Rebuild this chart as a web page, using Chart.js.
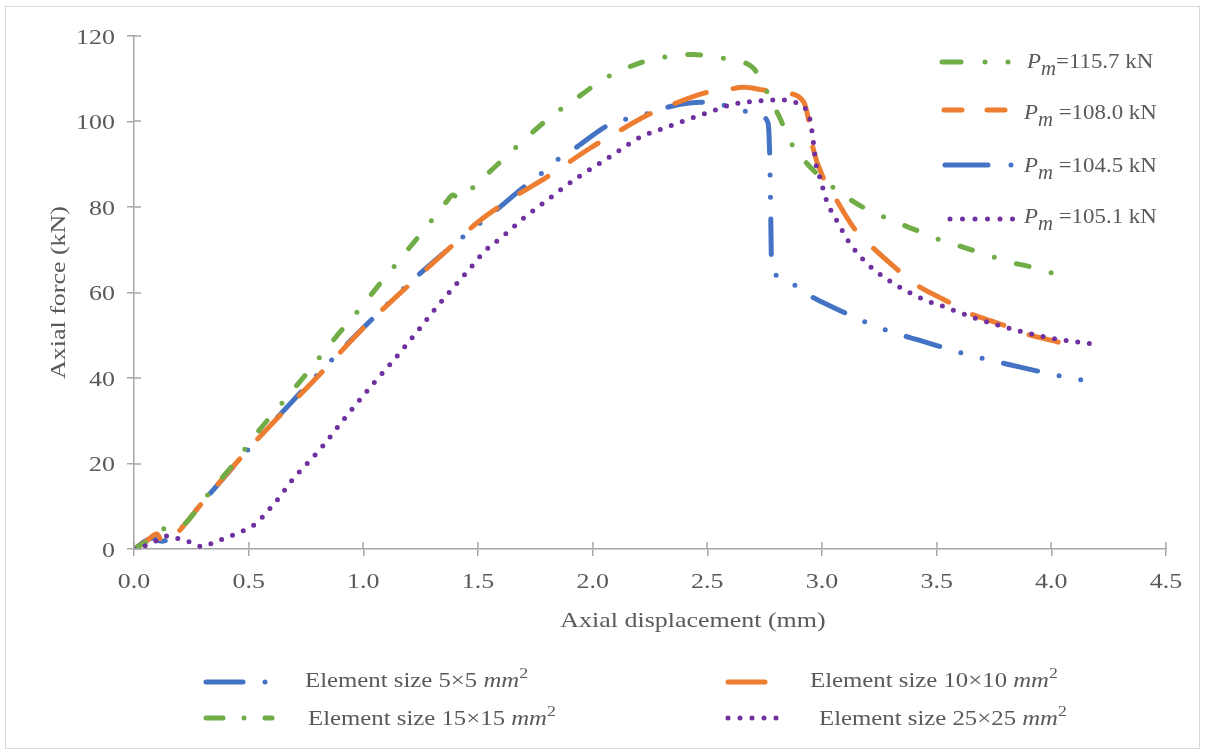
<!DOCTYPE html>
<html>
<head>
<meta charset="utf-8">
<script src="https://cdn.jsdelivr.net/npm/chart.js@4.4.1/dist/chart.umd.min.js"></script>
<style>
  html, body { margin: 0; padding: 0; background: #fff; }
  #wrap { position: relative; width: 1205px; height: 754px; }
</style>
</head>
<body>
<div id="wrap"><canvas id="chart" width="1205" height="754"></canvas></div>
<script>
// Axial force vs. axial displacement for four mesh sizes (FE results)
const disp5 = [0, 0.08, 0.12, 0.17, 0.30, 0.52, 0.84, 1.02, 1.23, 1.43, 1.58, 1.705, 1.78, 1.85, 1.93, 2.07, 2.15, 2.25, 2.33, 2.42, 2.50, 2.60, 2.69, 2.74, 2.765, 2.772, 2.776, 2.78, 2.84, 2.92, 3.0, 3.16, 3.24, 3.33, 3.42, 3.64, 3.86, 4.02, 4.11, 4.21]
const force5 = [0, 2.5, 1.8, 3.0, 11, 24.6, 43, 52.8, 63.6, 72.8, 79.3, 84.9, 88, 91.2, 94, 99.2, 100.6, 102, 103.4, 104.3, 104.5, 103.4, 102, 101, 99.6, 92, 80, 66.4, 63, 60, 57.8, 53.8, 52, 50.3, 48.9, 45.4, 42.6, 40.7, 39.8, 38.7]

const disp10 = [0, 0.05, 0.10, 0.127, 0.18, 0.30, 0.52, 0.82, 1.0, 1.19, 1.38, 1.5, 1.65, 1.80, 1.99, 2.10, 2.25, 2.33, 2.49, 2.58, 2.66, 2.74, 2.84, 2.92, 2.94, 2.96, 3.01, 3.05, 3.14, 3.2, 3.33, 3.40, 3.55, 3.63, 3.79, 3.86, 4.03]
const force10 = [0, 1.7, 3.5, 1.4, 3.3, 11, 24.6, 41.4, 51.7, 61.3, 70.6, 76.5, 82.1, 87, 93.8, 97.3, 101.8, 103.6, 106.7, 107.4, 108.0, 107.4, 106.7, 104.6, 100.8, 94, 86.3, 82.8, 75, 71.6, 65.3, 62.2, 57.8, 55.4, 52.4, 50.8, 48.4]

const disp15 = [0, 0.07, 0.14, 0.20, 0.266, 0.32, 0.43, 0.54, 0.65, 0.755, 0.87, 0.98, 1.085, 1.20, 1.31, 1.365, 1.39, 1.42, 1.49, 1.61, 1.68, 1.81, 1.88, 1.96, 2.02, 2.10, 2.18, 2.26, 2.35, 2.44, 2.52, 2.61, 2.70, 2.74, 2.78, 2.82, 2.85, 2.90, 2.96, 3.02, 3.09, 3.17, 3.24, 3.32, 3.41, 3.48, 3.65, 3.72, 3.82, 3.91, 4.0]
const force15 = [0, 2.2, 4.9, 5.2, 8.6, 12.6, 19.6, 27.4, 34.4, 41.2, 48.9, 55.9, 62.9, 70.4, 77.7, 81.4, 82.8, 81.9, 85.2, 91.2, 94.7, 100.8, 103.6, 106.6, 109, 111.4, 113.2, 114.6, 115.3, 115.7, 115.1, 114.4, 112.5, 109.2, 104.6, 100.4, 96.4, 92.4, 88.7, 85.8, 83, 80.2, 78.4, 76.5, 74.6, 73, 70, 68.8, 67.1, 66, 64.6]

const disp25 = [0, 0.055, 0.10, 0.15, 0.20, 0.25, 0.30, 0.35, 0.40, 0.45, 0.50, 0.54, 0.575, 0.61, 0.645, 0.676, 0.816, 0.916, 1.05, 1.12, 1.19, 1.255, 1.32, 1.39, 1.46, 1.53, 1.61, 1.69, 1.775, 1.86, 1.945, 2.08, 2.21, 2.31, 2.41, 2.51, 2.61, 2.72, 2.82, 2.87, 2.92, 2.945, 2.955, 2.962, 2.968, 2.975, 2.99, 3.02, 3.07, 3.12, 3.19, 3.27, 3.36, 3.46, 3.51, 3.68, 3.86, 4.02, 4.12, 4.18]
const force25 = [0, 0.9, 2, 3.1, 2.3, 1.5, 0.5, 1.6, 2.6, 3.7, 4.9, 6.3, 8.4, 10.5, 12.9, 15.2, 23.6, 30.4, 39.1, 43.4, 47.9, 52.2, 56.6, 61, 65.3, 69.7, 73.2, 77, 80.5, 84, 87.3, 91.9, 96.4, 98.4, 100.4, 102.2, 104, 104.8, 105.1, 104.6, 103.5, 101, 98.2, 95.3, 92.4, 89.6, 87, 81.5, 76.3, 71.6, 67.1, 63.6, 60.6, 58, 57.1, 53.8, 51, 49.1, 48.4, 48]

const meshSizes = ['5×5', '10×10', '15×15', '25×25']
const peakGap = [' ', ' ', '', ' ']          // text before "=" in the peak labels
const xRange = [0, 4.5], xStep = 0.5
const yRange = [0, 120], yStep = 20
const xTitle = 'Axial displacement (mm)'
const yTitle = 'Axial force (kN)'

const colors = ['#4472C4', '#ED7D31', '#70AD47', '#7030A0']
const dashes = [[35, 22, 0, 22, 0, 22], [33, 27], [13, 23, 0, 23], [0, 11.7]]
const drawOrder = [4, 3, 2, 1]
const lineW = 5

const axisGray = '#a6a6a6'
const textGray = '#595959'
const serif = '"Liberation Serif", "Times New Roman", serif'
const WIDE = 1.18   // the axis and mesh-legend text runs wider than the serif face

const series = [[disp5, force5], [disp10, force10], [disp15, force15], [disp25, force25]]
const peaks = series.map(([, f]) => Math.max(...f))

const toPoints = (xs, ys) => xs.map((x, i) => ({x: x, y: ys[i]}))

// draws a run of text pieces; each piece: [text, size, italic, dy]
const drawRuns = (ctx, runs, x, y, align, sx) => {
  sx = sx || 1
  ctx.save()
  ctx.fillStyle = textGray
  ctx.textBaseline = 'alphabetic'
  let total = 0
  runs.forEach(([t, size, italic]) => {
    ctx.font = (italic ? 'italic ' : '') + size + 'px ' + serif
    total += ctx.measureText(t).width * sx
  })
  let cx = align === 'center' ? x - total / 2 : align === 'right' ? x - total : x
  runs.forEach(([t, size, italic, dy]) => {
    ctx.font = (italic ? 'italic ' : '') + size + 'px ' + serif
    const w = ctx.measureText(t).width
    ctx.save()
    ctx.translate(cx, y + (dy || 0))
    ctx.scale(sx, 1)
    ctx.fillText(t, 0, 0)
    ctx.restore()
    cx += w * sx
  })
  ctx.restore()
}

const sample = (ctx, i, x0, x1, y, dash) => {
  ctx.save()
  ctx.strokeStyle = colors[i]
  ctx.lineWidth = lineW
  ctx.lineCap = 'round'
  ctx.setLineDash(dash)
  ctx.beginPath()
  ctx.moveTo(x0, y)
  ctx.lineTo(x1, y)
  ctx.stroke()
  ctx.restore()
}

const decorations = {
  id: 'decorations',
  afterDraw(chart) {
    const ctx = chart.ctx
    const xs = chart.scales.x, ys = chart.scales.y
    const area = chart.chartArea

    // outer frame
    ctx.save()
    ctx.strokeStyle = '#d9d9d9'
    ctx.lineWidth = 1
    ctx.strokeRect(5.5, 6.5, 1194, 742)

    // tick marks cross the axes: add the inner half
    ctx.strokeStyle = axisGray
    ctx.lineWidth = 1.5
    ctx.beginPath()
    xs.ticks.forEach(t => {
      const px = Math.round(xs.getPixelForValue(t.value))
      ctx.moveTo(px, area.bottom - 7)
      ctx.lineTo(px, area.bottom)
    })
    ys.ticks.forEach(t => {
      const py = Math.round(ys.getPixelForValue(t.value))
      ctx.moveTo(area.left, py)
      ctx.lineTo(area.left + 7, py)
    })
    ctx.stroke()
    ctx.restore()

    // tick labels
    xs.ticks.forEach(t => {
      drawRuns(ctx, [[t.value.toFixed(1), 22]], xs.getPixelForValue(t.value), 588, 'center', WIDE)
    })
    ys.ticks.forEach(t => {
      drawRuns(ctx, [[String(t.value), 22]], 115, ys.getPixelForValue(t.value) + 7.5, 'right', WIDE)
    })

    // axis titles
    drawRuns(ctx, [[xTitle, 22]], 693, 627, 'center', WIDE)
    ctx.save()
    ctx.translate(65, (area.top + area.bottom) / 2)
    ctx.rotate(-Math.PI / 2)
    drawRuns(ctx, [[yTitle, 22]], 0, 0, 'center', WIDE)
    ctx.restore()

    // peak legend, top right
    const peakRows = [[2, 62, 68, 1027, [19, 24, 0, 23, 0, 23], 942],
                      [1, 110, 119, 1024, [18, 25], 944],
                      [0, 165, 172, 1024, [43, 23, 0, 30], 945],
                      [3, 219, 223, 1024, [0, 12.5], 950]]
    peakRows.forEach(([i, ly, by, tx, dash, x0]) => {
      sample(ctx, i, x0, 1013, ly, dash)
      drawRuns(ctx, [['P', 22, true], ['m', 20, true, 7], [peakGap[i] + '=' + peaks[i].toFixed(1) + ' kN', 22]], tx, by, 'left', 1.04)
    })

    // mesh legend, bottom
    const meshRows = [[0, 206, 267, 682, 305, 687, [37, 22, 0, 30]],
                      [1, 728, 765, 682, 810, 687, [40, 10]],
                      [2, 206, 272, 718, 308, 725, [17, 21, 0, 21, 10, 10]],
                      [3, 728, 777, 718, 819, 725, [0, 12]]]
    meshRows.forEach(([i, x0, x1, ly, tx, by, dash]) => {
      sample(ctx, i, x0, x1, ly, dash)
      drawRuns(ctx, [['Element size ' + meshSizes[i] + ' ', 21], ['mm', 21, true], ['2', 15, false, -9]], tx, by, 'left', WIDE)
    })
  }
}

const ctx = document.getElementById('chart').getContext('2d')
const chart = new Chart(ctx, {
  type: 'line',
  data: {
    datasets: series.map(([xs, ys], i) => ({
      label: 'Element size ' + meshSizes[i] + ' mm²',
      data: toPoints(xs, ys),
      borderColor: colors[i],
      borderWidth: lineW,
      borderDash: dashes[i],
      borderCapStyle: 'round',
      borderJoinStyle: 'round',
      cubicInterpolationMode: 'monotone',
      pointRadius: 0,
      fill: false,
      order: drawOrder[i]
    }))
  },
  options: {
    responsive: false,
    animation: false,
    layout: { padding: { left: 0, right: 39, top: 36, bottom: 0 } },
    plugins: { legend: { display: false }, tooltip: { enabled: false } },
    scales: {
      x: {
        type: 'linear', min: xRange[0], max: xRange[1],
        ticks: { stepSize: xStep, display: false },
        grid: { drawOnChartArea: false, drawTicks: true, tickLength: 7, color: axisGray, lineWidth: 1.5 },
        border: { color: axisGray, width: 1.5 },
        afterFit: s => { s.height = 205 }
      },
      y: {
        type: 'linear', min: yRange[0], max: yRange[1],
        ticks: { stepSize: yStep, display: false },
        grid: { drawOnChartArea: false, drawTicks: true, tickLength: 7, color: axisGray, lineWidth: 1.5 },
        border: { color: axisGray, width: 1.5 },
        afterFit: s => { s.width = 134 }
      }
    }
  },
  plugins: [decorations]
})
</script>
</body>
</html>
